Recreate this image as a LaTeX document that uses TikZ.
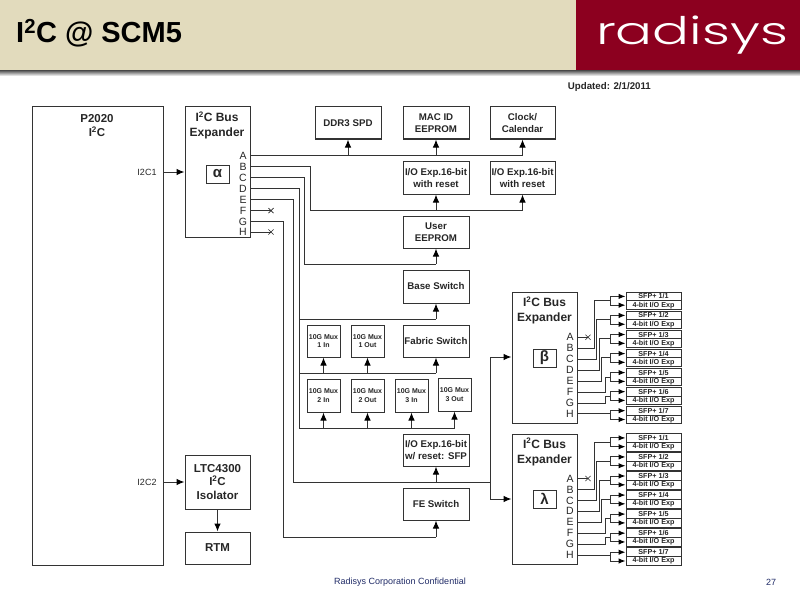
\documentclass[tikz,border=0pt]{standalone}
\usepackage{fontspec}
\setmainfont{Liberation Sans}
\newfontfamily\logofont[UprightFont={* Light}]{Poppins}
\usetikzlibrary{arrows.meta,shapes.misc,calc}
\definecolor{beige}{HTML}{E2DBBD}
\definecolor{wine}{HTML}{8C001F}
\definecolor{ink}{HTML}{262626}
\definecolor{edge}{HTML}{333333}
\definecolor{navy}{HTML}{1F2A66}
\newcommand{\fsz}[1]{\fontsize{#1}{#1}\selectfont}
\newcommand{\Itwo}{I\textsuperscript{2}C}
% \bx{name}{x1}{y1}{x2}{y2}{font size}{text}
\newcommand{\bx}[7]{%
  \pgfmathsetmacro{\bw}{#4-#2}\pgfmathsetmacro{\bh}{#5-#3}%
  \pgfmathsetmacro{\bcx}{(#2+#4)/2}\pgfmathsetmacro{\bcy}{(#3+#5)/2}%
  \node[blk,minimum width=\bw pt,minimum height=\bh pt,font=\bfseries\fsz{#6}] (#1) at (\bcx,\bcy) {#7};}
\tikzset{
  blk/.style={draw=edge,line width=1pt,fill=white,inner sep=0pt,align=center,text=ink,execute at begin node={\setlength{\baselineskip}{1.2em}}},
  wire/.style={draw=edge,line width=1pt},
  arr/.style={wire,-{Latex[length=8pt,width=6.5pt,color=black]}},
  arrs/.style={wire,-{Latex[length=7pt,width=5.5pt,color=black]}},
  pinlab/.style={inner sep=0pt,font=\fsz{10.5},text=ink},
  xmark/.style={cross out,draw=ink,line width=.6pt,minimum size=4.5pt,inner sep=0pt},
  title/.style={inner sep=0pt,font=\bfseries\fsz{11.5},text=ink,align=center},
}
\begin{document}
\begin{tikzpicture}[x=1pt,y=-1pt]
\useasboundingbox (0,0) rectangle (800,599);
% header
\fill[beige] (0,0) rectangle (576,71);
\fill[wine] (576,0) rectangle (800,71);
\shade[top color=black!60,bottom color=white] (0,71) rectangle (800,76);
\node[anchor=base west,inner sep=0pt,font=\bfseries\fsz{29},text=black] (head) at (16,43) {\Itwo\ @ SCM5};
\node[anchor=base,inner sep=0pt,text=white,font=\logofont\fsz{38},xscale=1.44] (logo) at (692,45) {radisys};
\node[anchor=east,inner sep=0pt,font=\bfseries\fsz{9.7},text=ink] (upd) at (651,87) {Updated: 2/1/2011};
\node[inner sep=0pt,font=\fsz{9},text=navy] (foot) at (400,582) {Radisys Corporation Confidential};
\node[inner sep=0pt,font=\fsz{9},text=navy] (pg) at (771,582) {27};
% main boxes
\bx{p2020}{32}{107}{163}{565}{11}{}
\node[title] (p2020t) at (97,125.5) {P2020\\[3pt]\Itwo};
\bx{alpha}{185}{107}{250}{237}{11}{}
\node[title,font=\bfseries\fsz{12}] (alphat) at (217,125.5) {\Itwo\ Bus\\[3pt]Expander};
\bx{alphas}{206}{165}{229}{183}{15}{α}
\bx{ltc}{185}{455}{250}{509}{11.5}{LTC4300\\\Itwo\\Isolator}
\bx{rtm}{185}{532}{250}{564}{11.5}{RTM}
\node[inner sep=0pt,font=\fsz{9},text=ink] (i2c1) at (147,172) {I2C1};
\node[inner sep=0pt,font=\fsz{9},text=ink] (i2c2) at (147,482) {I2C2};
\coordinate (c1) at (163,172);
\coordinate (c2) at (163,482);
\draw[arr] (c1) -- (alpha.west |- c1);
\draw[arr] (c2) -- (ltc.west |- c2);
\draw[arr] (ltc.south) -- (rtm.north);
\bx{ddr}{315}{107}{381}{139}{9.7}{DDR3 SPD}
\bx{mac}{403}{107}{469}{139}{9.7}{MAC ID\\EEPROM}
\bx{clock}{490}{107}{555}{139}{9.7}{Clock/\\Calendar}
\bx{ioa}{403}{161.5}{469}{194}{9.7}{I/O Exp.16-bit\\with reset}
\bx{iob}{490}{161.5}{555}{194}{9.7}{I/O Exp.16-bit\\with reset}
\bx{user}{403}{216}{469}{248}{9.7}{User\\EEPROM}
\bx{base}{403}{270}{469}{303}{9.7}{Base Switch}
\bx{fabric}{403}{325}{469}{357}{9.7}{Fabric Switch}
\bx{mi}{307}{325}{340}{357}{7}{10G Mux\\1 In}
\bx{mo}{351}{325}{384}{357}{7}{10G Mux\\1 Out}
\bx{mii}{307}{379}{340}{412}{7}{10G Mux\\2 In}
\bx{mio}{351}{379}{384}{412}{7}{10G Mux\\2 Out}
\bx{miii}{395}{379}{428}{412}{7}{10G Mux\\3 In}
\bx{miio}{438}{378}{471}{411}{7}{10G Mux\\3 Out}
\bx{iosfp}{403}{434}{469}{466}{9.7}{I/O Exp.16-bit\\w/ reset: SFP}
\bx{fe}{403}{488}{469}{520}{9.7}{FE Switch}
% alpha pins
\foreach \p/\y in {A/155.5,B/166.6,C/177.6,D/188.6,E/199.6,F/210.6,G/221.6,H/232}{
  \node[pinlab] (al\p) at (243,\y) {\p};
  \coordinate (ap\p) at (250.5,\y);
}
\node[xmark] (xf) at (271,210.6) {};
\node[xmark] (xh) at (271,232) {};
\draw[wire] (apF) -- (xf.center);
\draw[wire] (apH) -- (xh.center);
% A
\draw[wire] (apA) -- (clock.south |- apA);
\draw[arr] (ddr.south |- apA) -- (ddr.south);
\draw[arr] (mac.south |- apA) -- (mac.south);
\draw[arr] (clock.south |- apA) -- (clock.south);
% B
\coordinate (bbus) at (310,210);
\draw[wire] (apB) -- (bbus |- apB) -- (bbus) -- (iob.south |- bbus);
\draw[arr] (ioa.south |- bbus) -- (ioa.south);
\draw[arr] (iob.south |- bbus) -- (iob.south);
% C
\coordinate (cbus) at (304.5,264);
\draw[wire] (apC) -- (cbus |- apC) -- (cbus) -- (user.south |- cbus);
\draw[arr] (user.south |- cbus) -- (user.south);
% D
\coordinate (dtop) at (299.5,188.6);
\coordinate (d1) at (299.5,319);
\coordinate (d2) at (299.5,373);
\coordinate (d3) at (299.5,428);
\draw[wire] (apD) -- (dtop) -- (d3) -- (miio.south |- d3);
\draw[wire] (d1) -- (base.south |- d1);
\draw[wire] (d2) -- (fabric.south |- d2);
\draw[arr] (base.south |- d1) -- (base.south);
\foreach \n in {mi,mo,fabric}{\draw[arr] (\n.south |- d2) -- (\n.south);}
\foreach \n in {mii,mio,miii,miio}{\draw[arr] (\n.south |- d3) -- (\n.south);}
% E
\coordinate (e1) at (293.5,482);
\coordinate (e2) at (490,482);
\coordinate (e3) at (490,357);
\coordinate (e4) at (490,499);
\draw[wire] (apE) -- (e1 |- apE) -- (e1) -- (e2);
\draw[arr] (iosfp.south |- e1) -- (iosfp.south);
% G
\coordinate (gbus) at (283,537);
\draw[wire] (apG) -- (gbus |- apG) -- (gbus) -- (fe.south |- gbus);
\draw[arr] (fe.south |- gbus) -- (fe.south);
% beta / lambda
\bx{beta}{512}{292}{577}{423}{11}{}
\node[title,font=\bfseries\fsz{12}] (betat) at (544.5,310.5) {\Itwo\ Bus\\[3pt]Expander};
\bx{betas}{533}{349}{556}{367}{15}{β}
\bx{lam}{512}{434}{577}{564}{11}{}
\node[title,font=\bfseries\fsz{12}] (lamt) at (544.5,452) {\Itwo\ Bus\\[3pt]Expander};
\bx{lams}{533}{490}{556}{508}{15}{λ}
\draw[wire] (e3) -- (e4);
\draw[arr] (e3) -- (beta.west |- e3);
\draw[arr] (e4) -- (lam.west |- e4);
% pins and SFP rows
\foreach \g/\a/\o in {b/337.3/0,l/478.5/141.5}{
  \foreach \p/\i in {A/0,B/1,C/2,D/3,E/4,F/5,G/6,H/7}{
    \pgfmathsetmacro{\yy}{\a+\i*10.95}
    \node[pinlab] (\g l\p) at (570,\yy) {\p};
    \coordinate (\g p\p) at (577.5,\yy);
  }
  \node[xmark] (\g x) at (588,\a) {};
  \draw[wire] (\g pA) -- (\g x.center);
  \foreach \r/\p/\ex in {1/B/594,2/C/596.5,3/D/599,4/E/601.5,5/F/605,6/G/605,7/H/0}{
    \pgfmathsetmacro{\ty}{292+\o+(\r-1)*19.05}
    \pgfmathsetmacro{\my}{\ty+8.8}
    \pgfmathsetmacro{\by}{\ty+17.6}
    \bx{\g s\r}{626}{\ty}{681}{\my}{7.2}{SFP+ 1/\r}
    \bx{\g e\r}{626}{\my}{681}{\by}{7.2}{4-bit I/O Exp}
    \coordinate (\g f\r) at (610,\my);
    \ifnum\r=7
      \draw[wire] (\g p\p) -- (\g f\r |- \g p\p);
    \else
      \draw[wire] (\g p\p) -- (\ex,0 |- \g p\p) |- (\g f\r);
    \fi
    \draw[wire] (\g s\r.west -| \g f\r) -- (\g e\r.west -| \g f\r);
    \draw[arrs] (\g s\r.west -| \g f\r) -- (\g s\r.west);
    \draw[arrs] (\g e\r.west -| \g f\r) -- (\g e\r.west);
  }
}
\end{tikzpicture}
\end{document}
